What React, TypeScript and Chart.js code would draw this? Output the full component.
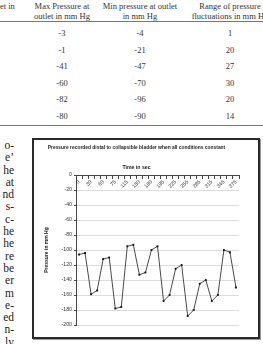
import React, { useEffect, useRef } from 'react';
import { Chart, registerables } from 'chart.js';

Chart.register(...registerables);

// ---- Table data (top of page) ----
const tableMaxPressure = ['-3', '-1', '-41', '-60', '-82', '-80'];
const tableMinPressure = ['-4', '-21', '-47', '-70', '-96', '-90'];
const tableRange = ['1', '20', '27', '30', '20', '14'];

// ---- Body-text fragments (cropped column at left) ----
const textFragments = ['o-', 'e\u2019', 'he', 'at', 'nd', 's-', 'c-', 'he', 'he', 're', 'be', 'er', 'm', 'e-', 'ed', 'n-', 'ly'];

// ---- Chart data ----
const chartTitle = 'Pressure recorded distal to collapsible bladder when all conditions constant';
const xAxisTitle = 'Time in sec';
const yAxisTitle = 'Pressure in mm Hg';
const timeLabels = [
  '0', '15', '30', '45', '60', '70', '75', '90', '115', '130', '150', '165', '180', '190',
  '195', '210', '225', '240', '255', '270', '285', '300', '315', '330', '345', '360', '375',
];
const pressure = [
  -106, -104, -159, -154, -112, -110, -178, -176, -95, -93, -133, -130, -100, -95,
  -168, -160, -125, -120, -188, -180, -145, -140, -168, -160, -100, -103, -150,
];
const yMin = -200;
const yMax = 0;
const yStep = 20;

const SANS = '"Liberation Sans", Arial, sans-serif';
const SERIF = '"Liberation Serif", "Times New Roman", serif';

function ChartBox() {
  const ref = useRef<HTMLCanvasElement | null>(null);
  useEffect(() => {
    if (!ref.current) return;
    const chart = new Chart(ref.current, {
      type: 'line',
      data: {
        labels: timeLabels,
        datasets: [
          {
            data: pressure,
            borderColor: '#4a4a4a',
            borderWidth: 1,
            tension: 0,
            pointRadius: 1.3,
            pointBackgroundColor: '#111',
            pointBorderWidth: 0,
            pointStyle: 'rect',
          },
        ],
      },
      options: {
        responsive: false,
        animation: false,
        layout: { padding: { left: 0, right: 19, top: 0, bottom: 12 } },
        plugins: {
          legend: { display: false },
          tooltip: { enabled: false },
          title: {
            display: true,
            text: chartTitle,
            color: '#222',
            font: { family: SANS, size: 4.9, weight: 'bold' },
            padding: { top: 4.5, bottom: 11.5 },
          },
          subtitle: {
            display: true,
            text: xAxisTitle,
            color: '#222',
            font: { family: SANS, size: 5.2, weight: 'bold' },
            padding: { top: 3.0, bottom: 3.9 },
          },
        },
        scales: {
          x: {
            type: 'category',
            position: { y: 0 } as any,
            offset: true,
            grid: { offset: true, drawOnChartArea: false, drawTicks: true, tickLength: 3, tickColor: '#444' },
            border: { display: true, color: '#444', width: 1 },
            ticks: {
              autoSkip: false,
              minRotation: 45,
              maxRotation: 45,
              padding: 1,
              color: '#333',
              font: { family: SANS, size: 5.2 },
              callback: (_v: any, i: number) => (i % 2 === 0 ? timeLabels[i] : ''),
            },
            afterFit: (s: any) => {
              s.height = 0;
            },
          } as any,
          y: {
            min: yMin,
            max: yMax,
            ticks: { stepSize: yStep, color: '#333', font: { family: SANS, size: 5.2 }, padding: 2 },
            grid: { color: '#dcdcdc', tickColor: '#444', tickLength: 2, drawTicks: true },
            border: { display: true, color: '#444', width: 1 },
            title: {
              display: true,
              text: yAxisTitle,
              color: '#222',
              font: { family: SANS, size: 5, weight: 'bold' },
              padding: { top: 10, bottom: 0 },
            },
            afterFit: (s: any) => {
              s.width = 42;
            },
          } as any,
        },
      },
    });
    return () => chart.destroy();
  }, []);
  return <canvas ref={ref} width={224} height={197} style={{ display: 'block', width: 224, height: 197 }} />;
}

const colCenters = [62, 140, 230];
const rowCenters = [33, 49.5, 66, 82.5, 99, 115.5];

export default function App() {
  const headers = [
    ['Max Pressure at', 'outlet in mm Hg'],
    ['Min pressure at outlet', 'in mm Hg'],
    ['Range of pressure', 'fluctuations in mm Hg'],
  ];
  const cols = [tableMaxPressure, tableMinPressure, tableRange];
  const cell = (left: number, top: number, w: number): React.CSSProperties => ({
    position: 'absolute',
    left,
    top,
    width: w,
    textAlign: 'center',
    lineHeight: '10px',
    fontSize: 8.5,
    whiteSpace: 'nowrap',
  });
  return (
    <div
      style={{
        position: 'fixed',
        left: 0,
        top: 0,
        width: 263,
        height: 344,
        overflow: 'hidden',
        background: '#fff',
        fontFamily: SERIF,
        color: '#333',
      }}
    >
      <div style={{ position: 'absolute', left: 0, top: 1, lineHeight: '10px', fontSize: 8.5 }}>et in</div>
      {headers.map((h, i) => (
        <div key={'h' + i} style={cell(colCenters[i] - 50, 1, 100)}>
          {h[0]}
          <br />
          {h[1]}
        </div>
      ))}
      <div style={{ position: 'absolute', left: 0, top: 21, width: 263, height: 1, background: '#777' }} />
      {cols.map((col, ci) =>
        col.map((v, ri) => (
          <div key={ci + '-' + ri} style={cell(colCenters[ci] - 30, rowCenters[ri] - 5, 60)}>
            {v}
          </div>
        ))
      )}
      <div style={{ position: 'absolute', left: 0, top: 125, width: 263, height: 1, background: '#777' }} />
      <div
        style={{
          position: 'absolute',
          left: -40,
          top: 139,
          width: 54,
          textAlign: 'right',
          fontSize: 11.5,
          lineHeight: '12.3px',
          color: '#222',
        }}
      >
        {textFragments.map((t, i) => (
          <div key={i}>{t}</div>
        ))}
      </div>
      <div
        style={{
          position: 'absolute',
          left: 32,
          top: 138,
          width: 224,
          height: 197,
          border: '2px solid #2a2a2a',
          boxShadow: '1px 1px 0 #999',
          background: '#fff',
        }}
      >
        <ChartBox />
      </div>
    </div>
  );
}
